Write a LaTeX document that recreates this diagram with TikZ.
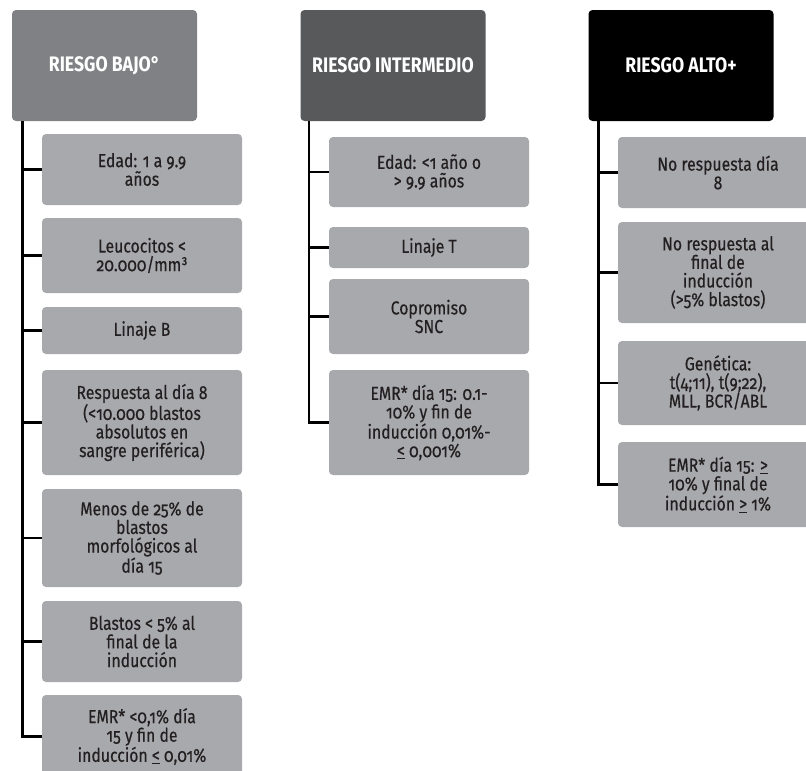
\documentclass[tikz,border=0pt]{standalone}
\usepackage{fontspec}
\setmainfont{Fira Sans}[FakeStretch=0.84, Numbers=OldStyle]
\newfontfamily\bodyfont{Fira Sans}[FakeStretch=0.84, FakeBold=0.4, Numbers=OldStyle]
\definecolor{hdrA}{HTML}{808184}
\definecolor{hdrB}{HTML}{58595B}
\definecolor{hdrC}{HTML}{000000}
\definecolor{boxgray}{HTML}{A7A9AC}
\definecolor{txtdark}{HTML}{231F20}
\begin{document}
\begin{tikzpicture}[x=1pt,y=-1pt,
  hdr/.style={rounded corners=4pt, text=white, inner sep=0pt,
    font=\fontsize{21}{23}\selectfont\bfseries, minimum width=185pt, minimum height=111pt},
  item/.style={fill=boxgray, rounded corners=4pt, text=txtdark, inner sep=0pt,
    align=center, font=\bodyfont\fontsize{18.8}{18.6}\selectfont, minimum width=200pt},
  conn/.style={draw=black, line width=2.4pt}]
\useasboundingbox (0,0) rectangle (806,771);
% headers
\node[hdr, fill=hdrA] (h1) at (104.5,65.5) {RIESGO BAJO°};
\node[hdr, fill=hdrB] (h2) at (393,65.5) {RIESGO INTERMEDIO};
\node[hdr, fill=hdrC] (h3) at (681,65.5) {RIESGO ALTO+};
% column 1
\node[item, minimum height=71pt] (a1) at (142,169.5) {Edad: 1 a 9.9\\años};
\node[item, minimum height=75pt] (a2) at (142,255.5) {Leucocitos <\\20.000/mm³};
\node[item, minimum height=47pt] (a3) at (142,330.5) {Linaje B};
\node[item, minimum height=105pt] (a4) at (142,422.5) {Respuesta al día 8\\(<10.000 blastos\\absolutos en\\sangre periférica)};
\node[item, minimum height=98pt] (a5) at (142,538) {Menos de 25\% de\\blastos\\morfológicos al\\día 15};
\node[item, minimum height=81pt] (a6) at (142,641.5) {Blastos < 5\% al\\final de la\\inducción};
\node[item, minimum height=83pt] (a7) at (142,736.5) {EMR* <0,1\% día\\15 y fin de\\inducción \underline{<} 0,01\%};
% column 2
\node[item, minimum height=70pt] (b1) at (429,172) {Edad: <1 año o\\> 9.9 años};
\node[item, minimum height=41pt] (b2) at (429,247.5) {Linaje T};
\node[item, minimum height=75pt] (b3) at (429,316.5) {Copromiso\\SNC};
\node[item, minimum height=105pt] (b4) at (429,422.5) {EMR* día 15: 0.1-\\10\% y fin de\\inducción 0,01\%-\\\underline{<} 0,001\%};
% column 3
\node[item, minimum height=71pt] (c1) at (718,172.5) {No respuesta día\\8};
\node[item, minimum height=101pt] (c2) at (718,272.5) {No respuesta al\\final de\\inducción\\(>5\% blastos)};
\node[item, minimum height=84pt] (c3) at (718,383) {Genética:\\t(4;11), t(9;22),\\MLL, BCR/ABL};
\node[item, minimum height=85pt] (c4) at (718,484.5) {EMR* día 15: \underline{>}\\10\% y final de\\inducción \underline{>} 1\%};
% trunks
\coordinate (t1) at (h1.south -| 22.5,0);
\coordinate (t2) at (h2.south -| 309,0);
\coordinate (t3) at (h3.south -| 598.5,0);
\foreach \n in {a1,a2,a3,a4,a5,a6,a7} \draw[conn] (t1) |- (\n.west);
\foreach \n in {b1,b2,b3,b4} \draw[conn] (t2) |- (\n.west);
\foreach \n in {c1,c2,c3,c4} \draw[conn] (t3) |- (\n.west);
\end{tikzpicture}
\end{document}
